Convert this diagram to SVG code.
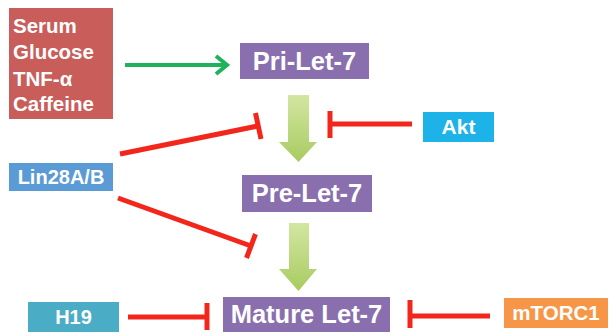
<svg xmlns="http://www.w3.org/2000/svg" width="612" height="336" viewBox="0 0 612 336">
<defs>
<style>
.lbl{font-family:"Liberation Sans",Arial,sans-serif;font-weight:bold;fill:#ffffff}
.inh{stroke:#f3261c;stroke-width:5;fill:none}
.purple{fill:#8a6fae}
</style>
<linearGradient id="gArrow" x1="0" y1="0" x2="0" y2="1">
<stop offset="0" stop-color="#d3e6a2"/>
<stop offset="1" stop-color="#a8cb60"/>
</linearGradient>
</defs>
<rect width="612" height="336" fill="#ffffff"/>

<g id="stimuli">
<rect x="9" y="8" width="104" height="111" fill="#c95d5a"/>
<text class="lbl" x="13" y="33" font-size="20.5">Serum</text>
<text class="lbl" x="13" y="59" font-size="20.5">Glucose</text>
<text class="lbl" x="13" y="86" font-size="20.5">TNF-α</text>
<text class="lbl" x="13" y="111" font-size="20.5">Caffeine</text>
</g>

<g id="pri-let-7">
<rect class="purple" x="240" y="43" width="129" height="36"/>
<text class="lbl" x="304.5" y="70" font-size="25.5" text-anchor="middle">Pri-Let-7</text>
</g>

<g id="pre-let-7">
<rect class="purple" x="242" y="175" width="130" height="37"/>
<text class="lbl" x="307" y="202" font-size="25.5" text-anchor="middle">Pre-Let-7</text>
</g>

<g id="mature-let-7">
<rect class="purple" x="223" y="297" width="167" height="35"/>
<text class="lbl" x="306.5" y="323" font-size="25.5" text-anchor="middle">Mature Let-7</text>
</g>

<g id="akt">
<rect x="423" y="112" width="71" height="30" fill="#1db2e8"/>
<text class="lbl" x="458.5" y="134" font-size="21" text-anchor="middle">Akt</text>
</g>

<g id="lin28">
<rect x="9" y="163" width="104" height="28" fill="#5b9bd5"/>
<text class="lbl" x="61" y="184" font-size="20" text-anchor="middle">Lin28A/B</text>
</g>

<g id="h19">
<rect x="28" y="302" width="91" height="30" fill="#4bacc6"/>
<text class="lbl" x="73.5" y="324" font-size="20" text-anchor="middle">H19</text>
</g>

<g id="mtorc1">
<rect x="504" y="298" width="104" height="30" fill="#f79646"/>
<text class="lbl" x="556" y="320" font-size="20.5" text-anchor="middle">mTORC1</text>
</g>

<g id="connectors">
<line x1="125" y1="65" x2="226" y2="65" stroke="#1fb25a" stroke-width="4"/>
<polyline points="216,56 227,65 216,74" stroke="#1fb25a" stroke-width="4" fill="none" stroke-linejoin="miter"/>
<polygon points="288,95 309,95 309,142 317,142 298.5,162 279,142 288,142" fill="url(#gArrow)"/>
<polygon points="289,223 309,223 309,269 317,269 298.5,291 279,269 289,269" fill="url(#gArrow)"/>
<line class="inh" x1="412" y1="124" x2="330" y2="124"/>
<line class="inh" x1="330" y1="111" x2="330" y2="138"/>
<line class="inh" x1="120" y1="154" x2="258" y2="126"/>
<line class="inh" x1="255.5" y1="113" x2="261" y2="139"/>
<line class="inh" x1="118" y1="198" x2="251" y2="246"/>
<line class="inh" x1="255.5" y1="234" x2="246.5" y2="258"/>
<line class="inh" x1="128" y1="317" x2="207" y2="317"/>
<line class="inh" x1="207" y1="303" x2="207" y2="330"/>
<line class="inh" x1="490" y1="316" x2="410" y2="316"/>
<line class="inh" x1="410" y1="300" x2="410" y2="328"/>
</g>
</svg>
